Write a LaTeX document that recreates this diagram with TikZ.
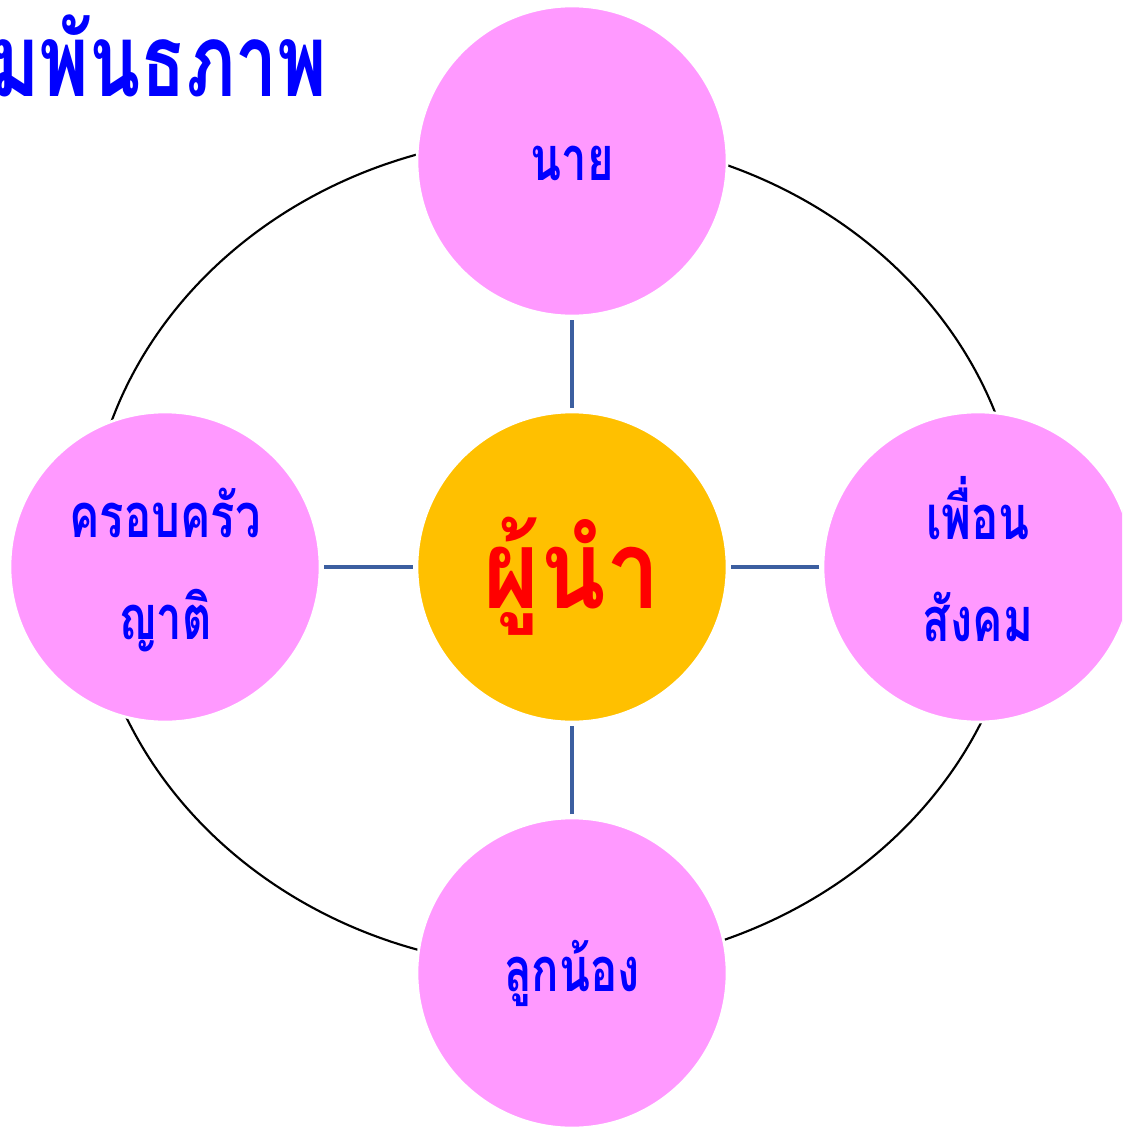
\documentclass[tikz,border=0pt]{standalone}
\usepackage{fontspec}
\newfontfamily\thaifont[Script=Thai]{Loma}
\newfontfamily\thainarrow[Script=Thai,FakeStretch=0.74]{Loma}
\newfontfamily\thaihub[Script=Thai,FakeStretch=0.88]{Loma}
\definecolor{pinkfill}{HTML}{FF99FF}
\definecolor{orangefill}{HTML}{FFC000}
\definecolor{connblue}{HTML}{3C5FA0}
\definecolor{textblue}{HTML}{0000FF}
\definecolor{textred}{HTML}{FF0000}
\begin{document}
\begin{tikzpicture}[x=0.75pt,y=-0.75pt,
  bubble/.style={circle, minimum size=232.5pt, inner sep=0pt, draw=white, line width=2pt, fill=pinkfill},
  hub/.style={bubble, fill=orangefill},
  bubbletext/.style={inner sep=0pt, text=textblue, align=center, font=\thainarrow\bfseries\fontsize{46}{77}\selectfont},
  hubtext/.style={inner sep=0pt, text=textred, font=\thaihub\bfseries\fontsize{82}{90}\selectfont},
  conn/.style={draw=connblue, line width=2.6pt, shorten <=2pt, shorten >=2pt},
  ring/.style={draw=black, line width=1.6pt}]
\clip (0,0) rectangle (1122,1127);
\useasboundingbox (0,0) rectangle (1122,1127);
\fill[white] (0,0) rectangle (1122,1127);
\draw[ring] (555,552) ellipse [x radius=350.25pt, y radius=312pt];
\node[hub] (c) at (572,567) {};
\node[bubble] (t) at (572,161) {};
\node[bubble] (b) at (572,973) {};
\node[bubble] (l) at (165,567) {};
\node[bubble] (r) at (978,567) {};
\draw[conn] (t) -- (c);
\draw[conn] (b) -- (c);
\draw[conn] (l) -- (c);
\draw[conn] (r) -- (c);
\node[hubtext] (ctext) at (572,576) {ผู้นำ};
\node[bubbletext] (ttext) at (572,163) {นาย};
\node[bubbletext] (btext) at (572,973) {ลูกน้อง};
\node[bubbletext] (ltext) at (165,570) {ครอบครัว\\ญาติ};
\node[bubbletext] (rtext) at (978,559) {เพื่อน\\สังคม};
\node[anchor=base west, inner sep=0pt, text=textblue, font=\thainarrow\bfseries\fontsize{76}{90}\selectfont] (title) at (-10,97) {มพันธภาพ};
\end{tikzpicture}
\end{document}
